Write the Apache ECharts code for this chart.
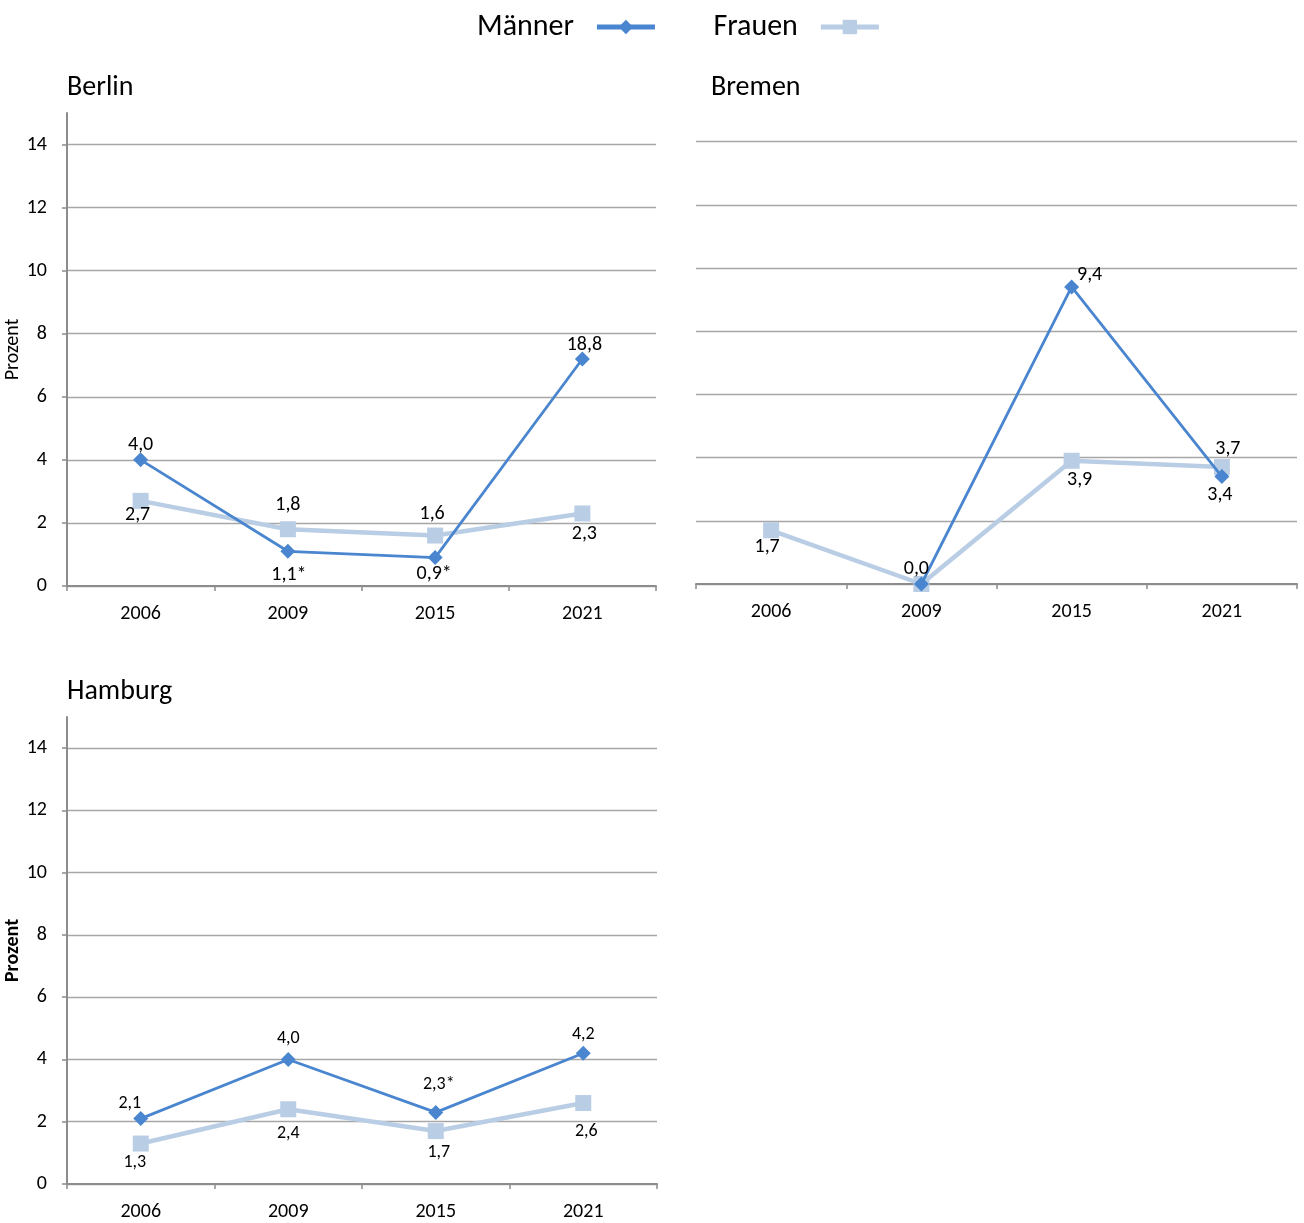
<!DOCTYPE html>
<html><head><meta charset="utf-8">
<script src="https://cdn.jsdelivr.net/npm/echarts@6/dist/echarts.min.js"></script>
<style>html,body{margin:0;padding:0;background:#fff}#c{width:1304px;height:1223px}</style>
</head><body><div id="c"></div>
<script>
const years = ['2006', '2009', '2015', '2021'];
const yTicks = [0, 2, 4, 6, 8, 10, 12, 14];

const berlinMaenner = [4.0, 1.1, 0.9, 7.2];
const berlinMaennerLabels = ['4,0', '1,1*', '0,9*', '18,8'];
const berlinFrauen = [2.7, 1.8, 1.6, 2.3];
const berlinFrauenLabels = ['2,7', '1,8', '1,6', '2,3'];

const bremenMaenner = [null, 0.0, 9.4, 3.4];
const bremenMaennerLabels = ['', '0,0', '9,4', '3,4'];
const bremenFrauen = [1.7, 0.0, 3.9, 3.7];
const bremenFrauenLabels = ['1,7', '', '3,9', '3,7'];

const hamburgMaenner = [2.1, 4.0, 2.3, 4.2];
const hamburgMaennerLabels = ['2,1', '4,0', '2,3*', '4,2'];
const hamburgFrauen = [1.3, 2.4, 1.7, 2.6];
const hamburgFrauenLabels = ['1,3', '2,4', '1,7', '2,6'];

// label placement (style only): offsets of label centre from the point
const offs = {
  berlinM: [[0,-15],[1,24],[-1,16],[2,-14]],
  berlinF: [[-3,14],[0,-24],[-3,-22],[2,21]],
  bremenM: [[0,0],[-5,-15],[18,-12],[-2,18]],
  bremenF: [[-4,17],[0,0],[8,19],[6,-18]],
  hamburgM: [[-11,-15],[0,-21],[3,-28],[0,-19]],
  hamburgF: [[-6,19],[0,24],[3,21],[3,28]]
};

const FONT = 'Carlito, Lato, sans-serif';
const C_M = '#4A86CF';
const C_F = '#B9CDE5';
const AXIS_C = '#8C8C8C';
const GRID_C = '#A6A6A6';

function mkData(vals, labels, off, fs) {
  return vals.map((v, i) => ({
    value: v,
    label: {
      show: labels[i] !== '',
      formatter: labels[i],
      position: 'inside',
      offset: off[i],
      color: '#000',
      fontSize: fs,
      fontFamily: FONT
    }
  }));
}

function mSeries(idx, vals, labels, off, fs) {
  return {
    name: 'Männer', type: 'line', xAxisIndex: idx, yAxisIndex: idx,
    data: mkData(vals, labels, off, fs),
    symbol: 'diamond', symbolSize: 15,
    lineStyle: { color: C_M, width: 2.8 },
    itemStyle: { color: C_M },
    z: 3, animation: false
  };
}
function fSeries(idx, vals, labels, off, fs) {
  return {
    name: 'Frauen', type: 'line', xAxisIndex: idx, yAxisIndex: idx,
    data: mkData(vals, labels, off, fs),
    symbol: 'rect', symbolSize: 16,
    lineStyle: { color: C_F, width: 4.5 },
    itemStyle: { color: C_F },
    z: 2, animation: false
  };
}

function xAxis(idx) {
  return {
    type: 'category', gridIndex: idx, data: years, boundaryGap: true,
    axisLine: { show: true, lineStyle: { color: AXIS_C, width: 2 } },
    axisTick: { show: true, length: 5, lineStyle: { color: AXIS_C, width: 1.5 } },
    axisLabel: { color: '#000', fontSize: 20, fontFamily: FONT, margin: 18 },
    splitLine: { show: false }
  };
}
function yAxis(idx, showAxis, nameBold) {
  return {
    type: 'value', gridIndex: idx, min: 0, max: 15, interval: 2,
    name: showAxis ? 'Prozent' : '',
    nameLocation: 'middle', nameRotate: 90, nameGap: 42,
    nameTextStyle: { color: '#000', fontSize: 20, fontFamily: FONT, fontWeight: nameBold ? 'bold' : 'normal' },
    axisLine: { show: showAxis, lineStyle: { color: AXIS_C, width: 2 } },
    axisTick: { show: showAxis, length: 5, customValues: yTicks, lineStyle: { color: AXIS_C, width: 1.5 } },
    axisLabel: { show: showAxis, customValues: yTicks, color: '#000', fontSize: 20, fontFamily: FONT, margin: 20 },
    splitLine: { show: true, lineStyle: { color: GRID_C, width: 1.3 } }
  };
}

const option = {
  backgroundColor: '#fff',
  animation: false,
  title: [
    { text: 'Berlin', left: 62, top: 69, textStyle: { fontSize: 28, fontWeight: 'normal', color: '#000', fontFamily: FONT } },
    { text: 'Bremen', left: 706, top: 69, textStyle: { fontSize: 28, fontWeight: 'normal', color: '#000', fontFamily: FONT } },
    { text: 'Hamburg', left: 62, top: 673, textStyle: { fontSize: 28, fontWeight: 'normal', color: '#000', fontFamily: FONT } }
  ],
  legend: {
    data: ['Männer', 'Frauen'],
    left: 472, top: 7,
    align: 'right',
    itemWidth: 58, itemHeight: 18, itemGap: 56,
    lineStyle: { width: 5 },
    textStyle: { fontSize: 30, color: '#000', fontFamily: FONT, padding: [0, 18, 0, 0] }
  },
  grid: [
    { left: 67, width: 589, top: 113, height: 473 },
    { left: 696, width: 601, top: 110, height: 474 },
    { left: 67, width: 590, top: 717, height: 467 }
  ],
  xAxis: [xAxis(0), xAxis(1), xAxis(2)],
  yAxis: [yAxis(0, true, false), yAxis(1, false, false), yAxis(2, true, true)],
  series: [
    fSeries(0, berlinFrauen, berlinFrauenLabels, offs.berlinF, 20),
    mSeries(0, berlinMaenner, berlinMaennerLabels, offs.berlinM, 20),
    fSeries(1, bremenFrauen, bremenFrauenLabels, offs.bremenF, 20),
    mSeries(1, bremenMaenner, bremenMaennerLabels, offs.bremenM, 20),
    fSeries(2, hamburgFrauen, hamburgFrauenLabels, offs.hamburgF, 18),
    mSeries(2, hamburgMaenner, hamburgMaennerLabels, offs.hamburgM, 18)
  ]
};

const chart = echarts.init(document.getElementById('c'), null, { renderer: 'canvas' });
chart.setOption(option);
</script>
</body></html>
